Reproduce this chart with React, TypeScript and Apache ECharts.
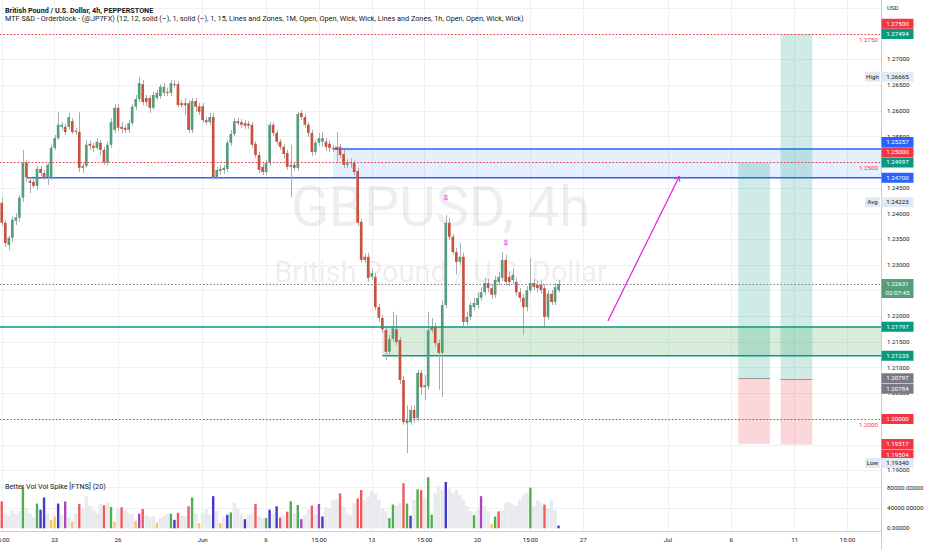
import React, { useEffect, useRef } from "react";
import * as echarts from "echarts";

// ---------------- data ----------------
// [open, close, low, high] for each 4h bar (GBPUSD, Pepperstone)
const candles: number[][] = [
  [1.2421, 1.2382, 1.2376, 1.2431], [1.2382, 1.2343, 1.2335, 1.2388], [1.2339, 1.2353, 1.2329, 1.2357], [1.2353, 1.2388, 1.2345, 1.2395], [1.2386, 1.2393, 1.2378, 1.2401],
  [1.2392, 1.2431, 1.2384, 1.2436], [1.2431, 1.2499, 1.2423, 1.2524], [1.2499, 1.2471, 1.2462, 1.2504], [1.2464, 1.246, 1.244, 1.2471], [1.2462, 1.2454, 1.245, 1.2469],
  [1.2454, 1.2487, 1.2446, 1.2493], [1.2487, 1.2479, 1.2473, 1.2493], [1.2479, 1.2471, 1.2466, 1.2485], [1.2471, 1.2495, 1.2456, 1.2499], [1.2471, 1.2528, 1.2466, 1.2534],
  [1.2528, 1.2547, 1.2524, 1.2553], [1.2547, 1.2573, 1.2543, 1.2598], [1.2569, 1.2573, 1.2563, 1.2578], [1.2569, 1.2559, 1.2553, 1.2575], [1.2569, 1.2588, 1.2563, 1.2596],
  [1.258, 1.2559, 1.2555, 1.2586], [1.2561, 1.2559, 1.2553, 1.2567], [1.2559, 1.2489, 1.2481, 1.2598], [1.2489, 1.2493, 1.2479, 1.2499], [1.2493, 1.2534, 1.2489, 1.2543],
  [1.2536, 1.2532, 1.2524, 1.2543], [1.2532, 1.2528, 1.252, 1.2538], [1.2528, 1.254, 1.2524, 1.2547], [1.2538, 1.2524, 1.2514, 1.2543], [1.2524, 1.25, 1.2495, 1.253],
  [1.25, 1.2534, 1.2493, 1.254], [1.2534, 1.2578, 1.2528, 1.2586], [1.2563, 1.2606, 1.2557, 1.2613], [1.2606, 1.2567, 1.2561, 1.2613], [1.2569, 1.2565, 1.2557, 1.2578],
  [1.2567, 1.2563, 1.2557, 1.2573], [1.2563, 1.2576, 1.2557, 1.2582], [1.2576, 1.2608, 1.2571, 1.2613], [1.2608, 1.2623, 1.2602, 1.2631], [1.2623, 1.2654, 1.2617, 1.26665],
  [1.2652, 1.2617, 1.2611, 1.266], [1.2625, 1.2617, 1.2609, 1.2631], [1.2625, 1.2606, 1.2596, 1.2631], [1.2606, 1.2631, 1.2602, 1.2637], [1.2625, 1.2635, 1.2621, 1.2641],
  [1.2629, 1.2647, 1.2623, 1.2652], [1.2635, 1.2647, 1.2629, 1.2654], [1.2637, 1.2635, 1.2629, 1.2645], [1.2635, 1.2654, 1.2629, 1.266], [1.2652, 1.265, 1.2645, 1.266],
  [1.2652, 1.2611, 1.2606, 1.2658], [1.2615, 1.2611, 1.2606, 1.2621], [1.2615, 1.2611, 1.2592, 1.2625], [1.2615, 1.2563, 1.2557, 1.2621], [1.2563, 1.2619, 1.2557, 1.2625],
  [1.2619, 1.2608, 1.2598, 1.2625], [1.2609, 1.2598, 1.2592, 1.2615], [1.2609, 1.2582, 1.2576, 1.2615], [1.2582, 1.2578, 1.2573, 1.2588], [1.2578, 1.2588, 1.2573, 1.2596],
  [1.2588, 1.2471, 1.2466, 1.2596], [1.2471, 1.2485, 1.2466, 1.2491], [1.2483, 1.2487, 1.2475, 1.2495], [1.2485, 1.2489, 1.2477, 1.2495], [1.2487, 1.2538, 1.2481, 1.2543],
  [1.2538, 1.2555, 1.2532, 1.2563], [1.2555, 1.258, 1.2551, 1.2586], [1.258, 1.2576, 1.2571, 1.2586], [1.2578, 1.2573, 1.2567, 1.2584], [1.2576, 1.2571, 1.2565, 1.2582],
  [1.2575, 1.2571, 1.2565, 1.258], [1.2573, 1.2534, 1.2528, 1.2578], [1.2536, 1.2514, 1.2508, 1.2541], [1.2514, 1.2485, 1.2479, 1.252], [1.2491, 1.2481, 1.2475, 1.2497],
  [1.2481, 1.2499, 1.2475, 1.2504], [1.2499, 1.2573, 1.2493, 1.2578], [1.2573, 1.2557, 1.2551, 1.2578], [1.2557, 1.254, 1.2534, 1.2563], [1.254, 1.253, 1.2524, 1.2545],
  [1.253, 1.2516, 1.2508, 1.2536], [1.2518, 1.2491, 1.2485, 1.2524], [1.2491, 1.2495, 1.2432, 1.2534], [1.2495, 1.2489, 1.2483, 1.25], [1.2489, 1.2594, 1.2483, 1.2598],
  [1.2596, 1.2588, 1.2582, 1.2602], [1.2588, 1.2573, 1.2567, 1.2594], [1.2573, 1.2557, 1.2549, 1.2578], [1.2557, 1.252, 1.2512, 1.2563], [1.252, 1.2538, 1.2514, 1.2543],
  [1.2538, 1.2547, 1.2532, 1.2557], [1.254, 1.2547, 1.253, 1.2559], [1.254, 1.253, 1.2522, 1.2547], [1.2536, 1.2528, 1.252, 1.2543], [1.2528, 1.2526, 1.252, 1.2534],
  [1.253, 1.2524, 1.25, 1.2559], [1.253, 1.2514, 1.2508, 1.2536], [1.2516, 1.2495, 1.2489, 1.2524], [1.2495, 1.25, 1.2489, 1.2506], [1.2499, 1.25, 1.2489, 1.2508],
  [1.2499, 1.2481, 1.2475, 1.2504], [1.2483, 1.2382, 1.2376, 1.2489], [1.2384, 1.231, 1.2304, 1.239], [1.2316, 1.231, 1.2304, 1.2322], [1.2316, 1.2275, 1.2267, 1.2324],
  [1.2277, 1.2284, 1.2271, 1.2294], [1.2277, 1.2218, 1.2212, 1.2284], [1.2218, 1.2197, 1.2189, 1.2224], [1.2197, 1.2175, 1.2168, 1.2203], [1.2173, 1.2131, 1.2115, 1.2181],
  [1.2131, 1.2156, 1.2125, 1.2164], [1.2156, 1.2177, 1.215, 1.2209], [1.2175, 1.215, 1.2144, 1.2203], [1.2154, 1.2076, 1.2068, 1.216], [1.2076, 1.1994, 1.1989, 1.2084],
  [1.1992, 1.1998, 1.1934, 1.2027], [1.1994, 1.2018, 1.1989, 1.2027], [1.2018, 1.2002, 1.1992, 1.2027], [1.2002, 1.209, 1.1996, 1.2096], [1.209, 1.2062, 1.2047, 1.2096],
  [1.2062, 1.2066, 1.2037, 1.2086], [1.2064, 1.2173, 1.2057, 1.2209], [1.2173, 1.2179, 1.2168, 1.2197], [1.2179, 1.2148, 1.214, 1.2187], [1.2148, 1.2129, 1.2057, 1.2154],
  [1.2129, 1.2222, 1.2043, 1.2232], [1.2222, 1.2382, 1.2216, 1.2397], [1.2382, 1.2355, 1.2349, 1.2392], [1.2355, 1.2325, 1.232, 1.236], [1.2325, 1.2306, 1.2281, 1.2333],
  [1.2306, 1.2316, 1.23, 1.2343], [1.2316, 1.2189, 1.2181, 1.2324], [1.2189, 1.2199, 1.2183, 1.2209], [1.2199, 1.2222, 1.2193, 1.2228], [1.2218, 1.2226, 1.2212, 1.2236],
  [1.2222, 1.2236, 1.2216, 1.2246], [1.2236, 1.2247, 1.223, 1.2257], [1.2247, 1.2265, 1.2242, 1.2275], [1.2265, 1.2255, 1.2247, 1.2273], [1.2255, 1.2242, 1.2234, 1.2263],
  [1.2242, 1.2271, 1.2236, 1.2279], [1.2267, 1.2277, 1.2261, 1.2286], [1.2275, 1.231, 1.2269, 1.2325], [1.231, 1.2267, 1.2261, 1.232], [1.2277, 1.2267, 1.2259, 1.2286],
  [1.2271, 1.2281, 1.2263, 1.2294], [1.2267, 1.2247, 1.224, 1.2275], [1.2247, 1.2236, 1.2228, 1.2255], [1.2236, 1.2218, 1.2164, 1.2244], [1.2218, 1.2251, 1.221, 1.2259],
  [1.2251, 1.2265, 1.2246, 1.2314], [1.2265, 1.2257, 1.2251, 1.2273], [1.2261, 1.2255, 1.2247, 1.2269], [1.2261, 1.2251, 1.2244, 1.2269], [1.2255, 1.2199, 1.2179, 1.2263],
  [1.2199, 1.2244, 1.2193, 1.2251], [1.2244, 1.2228, 1.2222, 1.2251], [1.2228, 1.2257, 1.2222, 1.2265], [1.2251, 1.22631, 1.2247, 1.2271],
];

// Better Volume values and their class per bar (r/g/b/p/y spike colours, "." = normal)
const volumes: number[] = [
  53000, 30000, 24000, 36000, 28000, 34000, 82000, 40000, 30000, 22000,
  48700, 36700, 60700, 30000, 16700, 23300, 48700, 26000, 52700, 22000,
  13300, 30000, 48000, 40000, 63000, 45000, 36000, 30000, 48000, 45300,
  50000, 42000, 13300, 38000, 41300, 36000, 30000, 28000, 14700, 28700,
  38000, 26000, 22000, 24000, 11300, 20000, 24000, 28000, 28700, 16700,
  30700, 26000, 24000, 43300, 60700, 30000, 10000, 30000, 38000, 26000,
  63300, 34000, 10000, 24000, 26700, 31300, 50000, 40000, 28000, 18000,
  26000, 30000, 48000, 24000, 20000, 20000, 36700, 28000, 43300, 21300,
  26000, 32700, 53300, 30000, 46000, 18000, 26000, 36000, 44700, 28000,
  48000, 23300, 42000, 40000, 56000, 58000, 68700, 43000, 30000, 26000,
  50000, 58700, 75300, 56000, 62000, 74000, 68000, 56000, 40000, 34000,
  20000, 46700, 44000, 50000, 88700, 48700, 24700, 56000, 76700, 75300,
  60000, 100700, 26700, 70000, 84000, 76000, 91300, 80000, 70000, 76000,
  66000, 56000, 44000, 34000, 26000, 36000, 63300, 44000, 34000, 8700,
  23300, 33300, 36000, 50000, 52000, 46000, 44000, 56000, 66000, 70000,
  80000, 44000, 56000, 50000, 46700, 40000, 56000, 36000, 5300,
];
const volumeKinds = (
  "r.....g..." + "gbb.yyb.p." + "y.r......r" + ".gy.r...yp" + "r...y...gb" +
  "r..rg.y..." + "b.y.bg...b" + "..r..gb.br" + ".rg.gp..r." + "pb....r..." +
  ".rr......." + "gg..rgb.gr" + ".gg...b..." + "....g.p..y" + "gr........" + "g...r...b"
).split("");

const barHours = ["03:00", "07:00", "11:00", "15:00", "19:00", "23:00"];
const timeTicks: [string, string][] = [
  ["2022-05-18 15:00", "15:00"], ["2022-05-23 03:00", "23"], ["2022-05-26 03:00", "26"],
  ["2022-06-01 03:00", "Jun"], ["2022-06-06 03:00", "6"], ["2022-06-08 15:00", "15:00"],
  ["2022-06-13 03:00", "13"], ["2022-06-15 15:00", "15:00"], ["2022-06-20 03:00", "20"],
  ["2022-06-22 15:00", "15:00"], ["2022-06-27 03:00", "27"], ["2022-07-01 03:00", "Jul"],
  ["2022-07-06 03:00", "6"], ["2022-07-11 03:00", "11"], ["2022-07-13 15:00", "15:00"],
];
const priceTicks = [1.19, 1.195, 1.2, 1.205, 1.21, 1.215, 1.22, 1.225, 1.23, 1.235, 1.24, 1.245, 1.25, 1.255, 1.26, 1.265, 1.27, 1.275];
const priceGridTicks = [1.19, 1.195, 1.2, 1.205, 1.21, 1.215, 1.22, 1.225, 1.23, 1.235, 1.24, 1.245, 1.25, 1.255, 1.26, 1.265, 1.27, 1.275, 1.28];
const volumeTicks = [0, 40000, 80000];
const volumeGridTicks = [40000, 80000];

const roundLevels = [1.275, 1.25, 1.2];
const roundLevelLabels = ["1.2750", "1.2500", "1.2000"];
const lastPrice = 1.22631;
const countdown = "02:07:45";
// supply zone (blue) and demand zone (green): [startBar, price]
const supplyTop: [number, number] = [94, 1.25257];
const supplyBottom: [number, number] = [7, 1.247];
const demandTop: [number, number] = [0, 1.21797];
const demandBottom: [number, number] = [108, 1.21235];
// long positions: [fromBar, toBar, target, entry, stop]
const positions: number[][] = [
  [209, 218, 1.24997, 1.20797, 1.19517],
  [221, 230, 1.27494, 1.20784, 1.19504],
];
const arrowFrom: [number, number] = [172, 1.2191];
const arrowTo: [number, number] = [192, 1.2469];
const signalMarks: [number, number][] = [[126, 1.2432], [143, 1.2343]];

const axisMarkPrices = [1.275, 1.27494, 1.26665, 1.25257, 1.25, 1.24997, 1.247, 1.24223, 1.21797, 1.21235, 1.20797, 1.20784, 1.2, 1.19517, 1.19504, 1.1934];
const axisMarkTags = ["", "", "High", "", "", "", "", "Avg", "", "", "", "", "", "", "", "Low"];

// ---------------- styles ----------------
const BAR_COUNT = 250;
const UP = "#559e7b";
const DOWN = "#c9523f";
const WICK = "#a9acb4";
const RED = "#f23645";
const TEAL = "#089981";
const BLUE = "#2962ff";
const GREY = "#787b86";
const LIGHT = "#e3e9f3";
const TEXT = "#131722";
const GRIDC = "#eef0f4";
const FONT = "Roboto, 'Noto Sans', Arial, sans-serif";
const FS = 6.2;
const GRID_RIGHT = 51;
const BOX_H = 10;
const markStyles = [
  { bg: RED, nudge: -1 }, { bg: TEAL, nudge: 0 }, { bg: LIGHT, nudge: 0 }, { bg: BLUE, nudge: -0.7 },
  { bg: RED, nudge: -1 }, { bg: TEAL, nudge: 0 }, { bg: BLUE, nudge: 0 }, { bg: LIGHT, nudge: 0 },
  { bg: TEAL, nudge: 0 }, { bg: TEAL, nudge: 0 }, { bg: GREY, nudge: 0 }, { bg: GREY, nudge: 1 },
  { bg: RED, nudge: 0 }, { bg: RED, nudge: 0 }, { bg: RED, nudge: 1 }, { bg: LIGHT, nudge: 1 },
];
const volColors: Record<string, string> = { r: "#f05a5e", g: "#4caf50", b: "#4338ca", p: "#ab47bc", y: "#f9c74f" };

function pad(n: number) {
  return n < 10 ? "0" + n : "" + n;
}
function buildCategories(): string[] {
  const out: string[] = [];
  let d = new Date(Date.UTC(2022, 4, 18));
  let h = 3;
  while (out.length < BAR_COUNT) {
    const wd = d.getUTCDay();
    if (wd !== 0 && wd !== 6) {
      const day = `${d.getUTCFullYear()}-${pad(d.getUTCMonth() + 1)}-${pad(d.getUTCDate())}`;
      for (; h < barHours.length && out.length < BAR_COUNT; h++) out.push(`${day} ${barHours[h]}`);
    }
    h = 0;
    d = new Date(d.getTime() + 86400000);
  }
  return out;
}

function txt(text: string, x: number, y: number, size: number, color: string, align = "left", weight = "normal", z = 50): any {
  return {
    type: "text", x, y, z, silent: true,
    style: {
      text, fill: color, fontSize: size, fontFamily: FONT, fontWeight: weight,
      align, textAlign: align, verticalAlign: "middle", textVerticalAlign: "middle",
    },
  };
}

export default function App() {
  const ref = useRef<HTMLDivElement>(null);
  useEffect(() => {
    if (!ref.current) return;
    document.body.style.margin = "0";
    const chart = echarts.init(ref.current, null, { renderer: "svg" });
    const cats = buildCategories();
    const tickMap = new Map(timeTicks);
    const showTick = (_i: number, v: string) => tickMap.has(v);

    const dotted = (color: string) => ({ color, width: 1, type: [1.5, 2] as any });
    const markLines: any[] = [];
    roundLevels.forEach((p, k) => {
      markLines.push({
        yAxis: p, lineStyle: dotted(RED),
        label: { show: true, formatter: roundLevelLabels[k], position: "insideEndBottom", color: RED, fontSize: FS, fontFamily: FONT, distance: 3 },
      });
    });
    markLines.push({ yAxis: lastPrice, lineStyle: dotted(GREY) });
    markLines.push({ yAxis: demandTop[1], lineStyle: { color: TEAL, width: 1.5, type: "solid" } });
    positions.forEach((pos) => {
      markLines.push([
        { coord: [pos[0], pos[3]], lineStyle: { color: "#9598a1", width: 1, type: "solid" } },
        { coord: [pos[1], pos[3]] },
      ]);
    });
    markLines.push([
      { coord: arrowFrom, lineStyle: { color: "#e21ee6", width: 1.2, type: "solid" }, symbol: "none" },
      { coord: arrowTo, symbol: "path://M5,0 L10,10 L8.6,10.8 L5,3.2 L1.4,10.8 L0,10 Z", symbolSize: [7, 6], itemStyle: { color: "#e21ee6" } },
    ]);

    const lineArea = (start: [number, number], color: string) => [
      { xAxis: start[0], yAxis: start[1], itemStyle: { color: "rgba(0,0,0,0)", borderColor: color, borderWidth: 1.5 } },
      { yAxis: start[1] },
    ];
    const markAreas: any[] = [
      [{ xAxis: supplyTop[0], yAxis: supplyTop[1], itemStyle: { color: "rgba(41,120,245,0.12)" } }, { yAxis: supplyBottom[1] }],
      [{ xAxis: demandBottom[0], yAxis: demandTop[1], itemStyle: { color: "rgba(76,175,80,0.22)" } }, { yAxis: demandBottom[1] }],
      lineArea(supplyTop, BLUE),
      lineArea(supplyBottom, BLUE),
      lineArea(demandBottom, TEAL),
    ];
    positions.forEach((pos) => {
      markAreas.push([{ xAxis: pos[0], yAxis: pos[2], itemStyle: { color: "rgba(8,153,129,0.2)" } }, { xAxis: pos[1], yAxis: pos[3] }]);
      markAreas.push([{ xAxis: pos[0], yAxis: pos[3], itemStyle: { color: "rgba(242,54,69,0.2)" } }, { xAxis: pos[1], yAxis: pos[4] }]);
    });

    const option: any = {
      animation: false,
      backgroundColor: "#ffffff",
      textStyle: { fontFamily: FONT },
      grid: [
        { left: 0, right: GRID_RIGHT, top: 0, bottom: 19, containLabel: false, outerBoundsMode: "none" },
        { left: 0, right: GRID_RIGHT, top: 467.4, bottom: 21.7, containLabel: false, outerBoundsMode: "none" },
      ],
      xAxis: [
        {
          type: "category", gridIndex: 0, data: cats, boundaryGap: true,
          axisLine: { show: true, lineStyle: { color: "#c9ccd3" } },
          axisTick: { show: false },
          axisLabel: { interval: showTick, formatter: (v: string) => tickMap.get(v) || "", fontSize: FS, color: TEXT, margin: 6, fontFamily: FONT },
          splitLine: { show: true, interval: showTick, alignWithLabel: true, lineStyle: { color: GRIDC, width: 1 } },
        },
        { type: "category", gridIndex: 1, data: cats, show: false },
        { type: "category", gridIndex: 1, data: cats, show: false },
      ],
      yAxis: [
        {
          type: "value", gridIndex: 0, position: "right", min: 1.17822, max: 1.28158,
          axisLine: { show: true, lineStyle: { color: "#c9ccd3" } },
          axisTick: { show: false, customValues: priceGridTicks },
          axisLabel: { customValues: priceTicks, formatter: (v: number) => v.toFixed(5), fontSize: FS, color: TEXT, margin: 6, fontFamily: FONT },
          splitLine: { show: true, lineStyle: { color: GRIDC, width: 1 } },
        },
        {
          type: "value", gridIndex: 1, position: "right", min: 0, max: 120000,
          axisLine: { show: false },
          axisTick: { show: false, customValues: volumeGridTicks },
          axisLabel: { customValues: volumeTicks, formatter: (v: number) => v.toFixed(5), fontSize: FS, color: TEXT, margin: 6, fontFamily: FONT },
          splitLine: { show: true, lineStyle: { color: GRIDC, width: 1 } },
        },
      ],
      series: [
        {
          type: "bar", name: "volume", xAxisIndex: 1, yAxisIndex: 1, barWidth: "100%", silent: true,
          data: volumes.map((v, i) => (volumeKinds[i] === "." ? v : "-")),
          itemStyle: { color: "#e9eaed" }, z: 1,
        },
        {
          type: "bar", name: "spikes", xAxisIndex: 2, yAxisIndex: 1, barWidth: 2.4, silent: true,
          data: volumes.map((v, i) => (volumeKinds[i] !== "." ? { value: v, itemStyle: { color: volColors[volumeKinds[i]] } } : "-")),
          z: 1,
        },
        {
          type: "custom", name: "GBPUSD", xAxisIndex: 0, yAxisIndex: 0, clip: true, silent: true, z: 3,
          data: candles.map((c, i) => [i, c[0], c[1], c[2], c[3]]),
          encode: { x: 0, y: [1, 2, 3, 4] },
          renderItem: (_params: any, api: any) => {
            const i = api.value(0);
            const o = api.value(1), c = api.value(2), l = api.value(3), h = api.value(4);
            const pO = api.coord([i, o]);
            const pC = api.coord([i, c]);
            const pL = api.coord([i, l]);
            const pH = api.coord([i, h]);
            const w = api.size([1, 0])[0] * 0.76;
            const top = Math.min(pO[1], pC[1]);
            const hgt = Math.max(Math.abs(pO[1] - pC[1]), 1);
            const wx = Math.round(pO[0]) + 0.5;
            return {
              type: "group",
              children: [
                { type: "line", shape: { x1: wx, y1: pH[1], x2: wx, y2: pL[1] }, style: { stroke: WICK, lineWidth: 1 } },
                { type: "rect", shape: { x: pO[0] - w / 2, y: top, width: w, height: hgt }, style: { fill: c >= o ? UP : DOWN } },
              ],
            };
          },
        },
        {
          type: "scatter", name: "signals", xAxisIndex: 0, yAxisIndex: 0, silent: true, z: 4,
          symbol: "circle", symbolSize: 1, itemStyle: { color: "rgba(0,0,0,0)" },
          data: signalMarks,
          label: { show: true, position: "inside", formatter: "$", color: "#e21ee6", fontSize: 8, fontWeight: "bold", fontFamily: FONT },
          markArea: { silent: true, precision: 6, data: markAreas },
          markLine: { silent: true, precision: 6, symbol: ["none", "none"], label: { show: false }, data: markLines },
        },
      ],
    };
    chart.setOption(option);

    // annotations on the price scale, positioned through the axis
    const W = chart.getWidth();
    const axisX = W - GRID_RIGHT;
    const yPix = (p: number) => chart.convertToPixel({ yAxisIndex: 0 }, p) as number;
    const els: any[] = [];
    els.push(txt("GBPUSD, 4h", axisX / 2, 207, 56, "rgba(120,123,134,0.13)", "center", "normal", 1));
    els.push(txt("British Pound / U.S. Dollar", axisX / 2, 272, 29, "rgba(120,123,134,0.13)", "center", "normal", 1));
    els.push(txt("British Pound / U.S. Dollar, 4h, PEPPERSTONE", 5, 10.7, 7.2, TEXT, "left", "bold"));
    els.push(txt("MTF S&D - Orderblock - (@JP7FX) (12, 12, solid (\u2013), 1, solid (\u2013), 1, 15, Lines and Zones, 1M, Open, Open, Wick, Wick, Lines and Zones, 1h, Open, Open, Wick, Wick)", 5, 18.8, 7.3, TEXT));
    els.push(txt("Better Vol Vol Spike [FTNS] (20)", 5, 486, 7.2, TEXT));
    els.push(txt("USD", axisX + 6, 7.5, 6, TEXT));
    els.push({ type: "line", z: 50, silent: true, shape: { x1: axisX + 0.5, y1: 531, x2: axisX + 0.5, y2: 550 }, style: { stroke: "#c9ccd3", lineWidth: 1 } });

    axisMarkPrices.forEach((p, k) => {
      const st = markStyles[k];
      const cy = yPix(p) + st.nudge * BOX_H;
      const light = st.bg === LIGHT;
      els.push({ type: "rect", z: 50, silent: true, shape: { x: axisX + 0.5, y: cy - BOX_H / 2, width: 32, height: BOX_H }, style: { fill: st.bg } });
      els.push(txt(p.toFixed(5), axisX + 16.5, cy, FS, light ? TEXT : "#ffffff", "center"));
      if (axisMarkTags[k]) {
        els.push({ type: "rect", z: 50, silent: true, shape: { x: axisX - 16, y: cy - BOX_H / 2, width: 15, height: BOX_H }, style: { fill: LIGHT } });
        els.push(txt(axisMarkTags[k], axisX - 8.5, cy, FS, TEXT, "center"));
      }
    });
    const ly = yPix(lastPrice);
    els.push({ type: "rect", z: 50, silent: true, shape: { x: axisX + 0.5, y: ly - 5, width: 32, height: 19 }, style: { fill: UP } });
    els.push(txt(lastPrice.toFixed(5), axisX + 16.5, ly, FS, "#ffffff", "center"));
    els.push(txt(countdown, axisX + 16.5, ly + 9, FS, "#ffffff", "center"));

    chart.setOption({ graphic: { elements: els } });
    return () => chart.dispose();
  }, []);
  return <div ref={ref} style={{ position: "fixed", left: 0, top: 0, width: 932, height: 550 }} />;
}
